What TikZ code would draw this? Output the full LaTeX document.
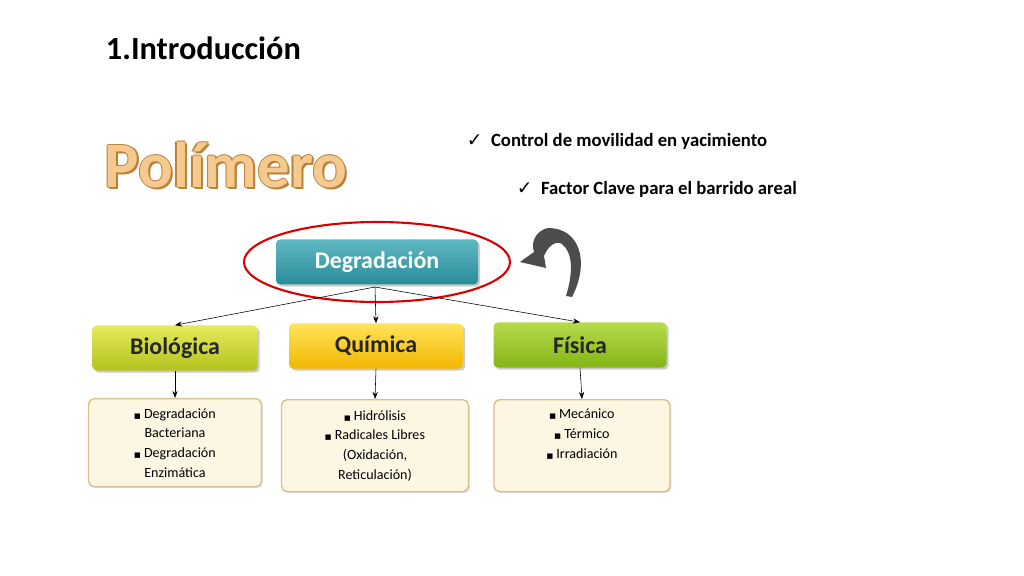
\documentclass[tikz,border=0pt]{standalone}
\usepackage{fontspec}
\setmainfont{Carlito}
\newfontfamily\symfont{DejaVu Sans}
\usetikzlibrary{positioning,shadows,arrows.meta}
\definecolor{tealtop}{HTML}{5FB8C4}
\definecolor{tealbot}{HTML}{2A8C99}
\definecolor{limetop}{HTML}{E4EB5A}
\definecolor{limebot}{HTML}{B5C21E}
\definecolor{goldtop}{HTML}{FFE45A}
\definecolor{goldbot}{HTML}{F2B600}
\definecolor{greentop}{HTML}{B6DB4C}
\definecolor{greenbot}{HTML}{84B515}
\definecolor{creambox}{HTML}{FDF6E3}
\definecolor{tanline}{HTML}{D9BF8C}
\definecolor{polyfill}{HTML}{F6C98E}
\definecolor{polyline}{HTML}{B8823A}
\tikzset{
  headbox/.style={rounded corners=3pt, minimum height=45\unitpx, font=\bfseries\fontsize{17}{20}\selectfont,
    drop shadow={shadow xshift=1.5pt, shadow yshift=-1.5pt, opacity=.4}},
  listbox/.style={draw=tanline, line width=1pt, fill=creambox, rounded corners=4pt, align=center,
    font=\fontsize{10}{14}\selectfont, anchor=north, inner sep=3pt,
    drop shadow={shadow xshift=1pt, shadow yshift=-1pt, opacity=.25}},
  listtext/.style={align=center, font=\fontsize{10}{14}\selectfont, anchor=north},
  polytext/.style={anchor=west, font=\bfseries\fontsize{46}{50}\selectfont},
  link/.style={-{Stealth[length=5pt]}, thin}
}
\newlength{\unitpx}\setlength{\unitpx}{0.025cm}
\newcommand{\sq}{{\symfont\tiny■}\ }
\begin{document}
\begin{tikzpicture}[x=0.025cm,y=-0.025cm]
\useasboundingbox (0,0) rectangle (1024,576);
% titles
\node[anchor=west, font=\bfseries\fontsize{23}{26}\selectfont] (title) at (101,48) {1.Introducción};
\foreach \dx/\dy in {-1.2/0,1.2/0,0/-1.2,0/1.2,2/2}
  \node[polytext, text=polyline] at (100+\dx,165+\dy) {Polímero};
\node[polytext, text=polyfill] (poly) at (100,165) {Polímero};
\node[anchor=west, font=\bfseries\fontsize{13.3}{16}\selectfont] (chk1) at (462,141) {{\symfont ✓}\ \ Control de movilidad en yacimiento};
\node[anchor=west, font=\bfseries\fontsize{13.3}{16}\selectfont] (chk2) at (512,189) {{\symfont ✓}\ \ Factor Clave para el barrido areal};
% boxes
\node[headbox, minimum width=202\unitpx, top color=tealtop, bottom color=tealbot, text=white] (deg) at (377,262) {Degradación};
\node[headbox, minimum width=165\unitpx, top color=limetop, bottom color=limebot, text=black!85] (bio) at (175,348) {Biológica};
\node[headbox, minimum width=174\unitpx, top color=goldtop, bottom color=goldbot, text=black!85] (qui) at (376,346) {Química};
\node[headbox, minimum width=173\unitpx, top color=greentop, bottom color=greenbot, text=black!85] (fis) at (580,345) {Física};
\draw[red!85!black, line width=1.5pt] (deg.center) ellipse (133 and 40);
% curved arrow
\fill[black!70] (572,297) .. controls (590,262) and (580,228) .. (548,228)
  .. controls (538,230) and (530,240) .. (534,252) -- (520,262) -- (546,268) -- (544,256)
  .. controls (548,246) and (556,240) .. (562,244) .. controls (572,252) and (574,270) .. (566,296) -- cycle;
% lists
\node[listbox, minimum width=173\unitpx, minimum height=88\unitpx] (bioL) at (175,398)
  {\sq Degradación\\ Bacteriana\\ \sq Degradación\\ Enzimática};
\node[listbox, minimum width=187\unitpx, minimum height=92\unitpx] (quiL) at (375,399)
  {\sq Hidrólisis\\ \sq Radicales Libres\\ (Oxidación,\\ Reticulación)};
\node[listbox, minimum width=176\unitpx, minimum height=92\unitpx] (fisL) at (582,399) {};
\node[listtext] (fisT) at (582,404) {\sq Mecánico\\ \sq Térmico\\ \sq Irradiación};
% links
\coordinate (hub) at (375,287);
\draw[link] (hub) -- (bio.north);
\draw[link] (hub) -- (qui.north);
\draw[link] (hub) -- (fis.north);
\draw[link] (bio.south) -- (bioL.north);
\draw[link] (qui.south) -- (quiL.north);
\draw[link] (fis.south) -- (fisL.north);
\end{tikzpicture}
\end{document}
